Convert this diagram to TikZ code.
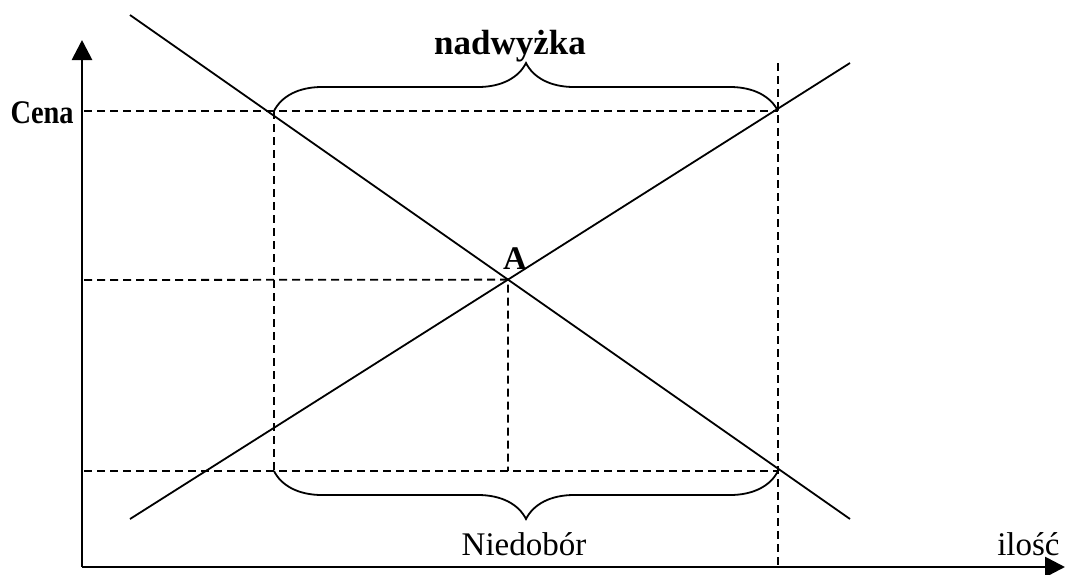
\documentclass[tikz,border=0pt]{standalone}
\usepackage{fontspec}
\setmainfont{Liberation Serif}
\usetikzlibrary{arrows.meta,calc}
\usetikzlibrary{decorations.pathreplacing}
\tikzset{
  axis/.style={line width=1.4pt, -{Triangle[length=10pt,width=10pt]}},
  curve/.style={line width=0.9pt},
  guide/.style={line width=0.9pt, dash pattern=on 4pt off 2.5pt},
  bracket/.style={line width=0.9pt, decorate, decoration={brace,amplitude=24pt}},
  lbl/.style={font=\fontsize{16.5}{19}\selectfont, inner sep=0pt}
}

\begin{document}
\begin{tikzpicture}[x=0.5pt, y=-0.5pt]
    \useasboundingbox (0,0) rectangle (1066,574);

    % axes
    \coordinate (O) at (82,567);
    \coordinate (ytop) at (82,40);
    \coordinate (xend) at (1065,567);

    % demand and supply
    \coordinate (D1) at (130,15);
    \coordinate (D2) at (850,519);
    \coordinate (S1) at (130,519);
    \coordinate (S2) at (850,63);
    \coordinate (A) at (intersection of D1--D2 and S1--S2);

    % price levels
    \coordinate (hiL) at (84,111);
    \coordinate (hiM) at (274,111);
    \coordinate (hiR) at (778,111);
    \coordinate (loL) at (84,471);
    \coordinate (loM) at (274,471);
    \coordinate (loR) at (778,471);
    \coordinate (eqL) at (84,280);
    \coordinate (qTop) at (778,63);
    \coordinate (qBot) at (778,567);

    \draw[guide] (hiL) -- (hiR);
    \draw[guide] (loL) -- (loR);
    \draw[guide] (eqL) -- (A) -- (A |- loL);
    \draw[guide] (hiM) -- (loM);
    \draw[guide] (qTop) -- (qBot);

    \draw[curve] (D1) -- (D2);
    \draw[curve] (S1) -- (S2);

    \draw[bracket] (hiM) -- (hiR);
    \draw[bracket] (loR) -- (loM);

    \draw[axis] (O) -- (ytop);
    \draw[axis] (O) -- (xend);

    \node[lbl, anchor=base east, xscale=0.86] (cena) at (74,123) {\bfseries Cena};
    \node[lbl, anchor=base, font=\fontsize{17.5}{20}\selectfont] (surplus) at (510,54) {\bfseries nadwyżka};
    \node[lbl, anchor=base] (shortage) at (524,555) {Niedobór};
    \node[lbl, anchor=base east] (qty) at (1060,555) {ilość};
    \node[lbl, anchor=base] (labA) at ($(A)+(7,-10)$) {\bfseries A};
\end{tikzpicture}
\end{document}
